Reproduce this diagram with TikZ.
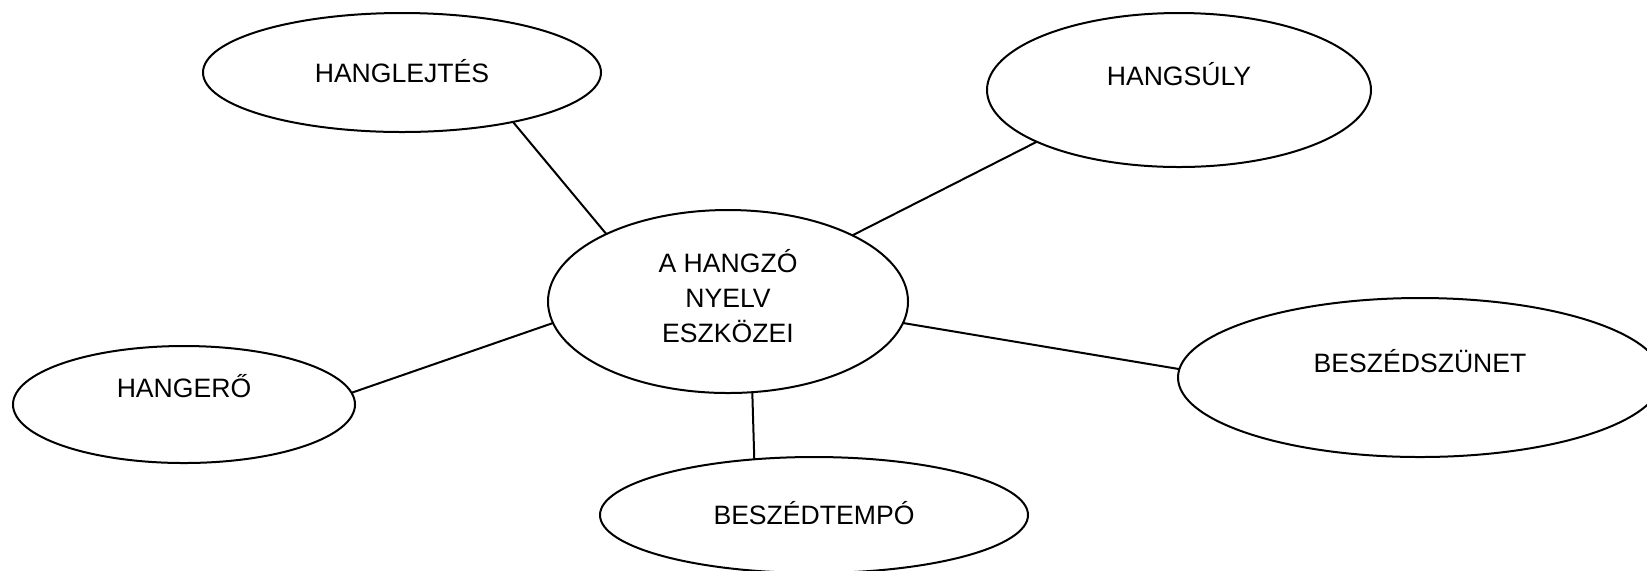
\documentclass[tikz,border=0pt]{standalone}
\usepackage{fontspec}
\setmainfont{Liberation Sans}
\tikzset{every picture/.style={line width=1pt},
	bubble/.style={ellipse,draw,inner sep=0pt,outer sep=0pt},
	word/.style={font=\fontsize{13.3}{17.5}\selectfont,align=center,inner sep=0pt}}
\usetikzlibrary{shapes.geometric}
\begin{document}
\begin{tikzpicture}[x=0.5pt,y=-0.5pt]
			\useasboundingbox (0,0) rectangle (1647,570);
			% ellipses
			\node [bubble,minimum width=180pt,minimum height=91.5pt] (kozep) at (728,301.5) {};
			\node [bubble,minimum width=199pt,minimum height=59.5pt] (lejtes) at (402,72.5) {};
			\node [bubble,minimum width=192pt,minimum height=77pt] (suly) at (1179,90) {};
			\node [bubble,minimum width=171pt,minimum height=58.5pt] (ero) at (184,404.5) {};
			\node [bubble,minimum width=242pt,minimum height=79.5pt] (szunet) at (1420,377.5) {};
			\node [bubble,minimum width=214pt,minimum height=58pt] (tempo) at (814,515) {};
			% texts
			\node [word] (kozep-t) at (728,296.5) {A HANGZÓ\\NYELV\\ESZKÖZEI};
			\node [word] (lejtes-t) at (402,71.5) {HANGLEJTÉS};
			\node [word] (suly-t) at (1179,74) {HANGSÚLY};
			\node [word] (ero-t) at (184,386.5) {HANGERŐ};
			\node [word] (szunet-t) at (1420,361) {BESZÉDSZÜNET};
			\node [word] (tempo-t) at (814,513.5) {BESZÉDTEMPÓ};
			% connectors
			\draw (kozep.151.2) -- (lejtes.-24.2);
			\draw (kozep.28.5) -- (suly.200.5);
			\draw (kozep.187.9) -- (ero.4.2);
			\draw (kozep.-7.4) -- (szunet.178.5);
			\draw (kozep.-75.9) -- (tempo.137.5);
		\end{tikzpicture}
\end{document}
